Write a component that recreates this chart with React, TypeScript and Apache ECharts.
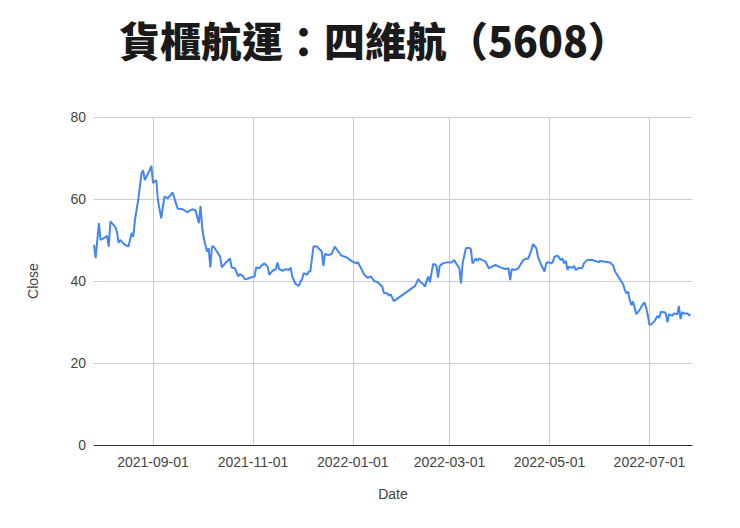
import React, { useEffect, useRef } from "react";
import * as echarts from "echarts";

const titleText = "貨櫃航運：四維航（5608）";

// trading dates and closing prices
const dates = [
  "2021-07-27", "2021-07-28", "2021-07-30", "2021-07-31", "2021-08-03", "2021-08-04",
  "2021-08-05", "2021-08-06", "2021-08-09", "2021-08-10", "2021-08-11", "2021-08-12",
  "2021-08-13", "2021-08-15", "2021-08-17", "2021-08-19", "2021-08-20", "2021-08-21",
  "2021-08-23", "2021-08-25", "2021-08-26", "2021-08-27", "2021-08-30", "2021-08-31",
  "2021-09-01", "2021-09-03", "2021-09-04", "2021-09-06", "2021-09-08", "2021-09-10",
  "2021-09-11", "2021-09-13", "2021-09-15", "2021-09-16", "2021-09-19", "2021-09-22",
  "2021-09-25", "2021-09-27", "2021-09-29", "2021-09-30", "2021-10-01", "2021-10-02",
  "2021-10-04", "2021-10-05", "2021-10-06", "2021-10-07", "2021-10-08", "2021-10-10",
  "2021-10-12", "2021-10-13", "2021-10-15", "2021-10-16", "2021-10-18", "2021-10-19",
  "2021-10-21", "2021-10-23", "2021-10-24", "2021-10-26", "2021-10-27", "2021-10-29",
  "2021-10-31", "2021-11-02", "2021-11-03", "2021-11-05", "2021-11-06", "2021-11-08",
  "2021-11-10", "2021-11-11", "2021-11-13", "2021-11-15", "2021-11-16", "2021-11-17",
  "2021-11-19", "2021-11-21", "2021-11-23", "2021-11-24", "2021-11-25", "2021-11-27",
  "2021-11-29", "2021-11-30", "2021-12-01", "2021-12-02", "2021-12-04", "2021-12-05",
  "2021-12-06", "2021-12-08", "2021-12-10", "2021-12-13", "2021-12-14", "2021-12-15",
  "2021-12-17", "2021-12-19", "2021-12-21", "2021-12-23", "2021-12-25", "2021-12-28",
  "2021-12-31", "2022-01-03", "2022-01-04", "2022-01-06", "2022-01-08", "2022-01-10",
  "2022-01-12", "2022-01-14", "2022-01-16", "2022-01-17", "2022-01-19", "2022-01-20",
  "2022-01-22", "2022-01-23", "2022-01-24", "2022-01-26", "2022-02-08", "2022-02-10",
  "2022-02-11", "2022-02-13", "2022-02-14", "2022-02-15", "2022-02-16", "2022-02-17",
  "2022-02-19", "2022-02-20", "2022-02-21", "2022-02-22", "2022-02-23", "2022-02-25",
  "2022-02-28", "2022-03-02", "2022-03-04", "2022-03-05", "2022-03-07", "2022-03-08",
  "2022-03-09", "2022-03-11", "2022-03-13", "2022-03-14", "2022-03-15", "2022-03-17",
  "2022-03-18", "2022-03-19", "2022-03-21", "2022-03-23", "2022-03-25", "2022-03-27",
  "2022-03-29", "2022-03-31", "2022-04-02", "2022-04-04", "2022-04-06", "2022-04-07",
  "2022-04-08", "2022-04-10", "2022-04-12", "2022-04-15", "2022-04-17", "2022-04-18",
  "2022-04-20", "2022-04-21", "2022-04-23", "2022-04-24", "2022-04-26", "2022-04-27",
  "2022-04-28", "2022-04-29", "2022-04-30", "2022-05-02", "2022-05-03", "2022-05-04",
  "2022-05-06", "2022-05-08", "2022-05-09", "2022-05-10", "2022-05-11", "2022-05-12",
  "2022-05-13", "2022-05-15", "2022-05-16", "2022-05-17", "2022-05-19", "2022-05-21",
  "2022-05-22", "2022-05-24", "2022-05-27", "2022-05-29", "2022-05-31", "2022-06-01",
  "2022-06-04", "2022-06-07", "2022-06-09", "2022-06-10", "2022-06-12", "2022-06-14",
  "2022-06-15", "2022-06-16", "2022-06-17", "2022-06-18", "2022-06-19", "2022-06-20",
  "2022-06-21", "2022-06-22", "2022-06-23", "2022-06-25", "2022-06-26", "2022-06-28",
  "2022-06-29", "2022-06-30", "2022-07-01", "2022-07-02", "2022-07-04", "2022-07-06",
  "2022-07-07", "2022-07-08", "2022-07-10", "2022-07-11", "2022-07-12", "2022-07-13",
  "2022-07-15", "2022-07-16", "2022-07-18", "2022-07-19", "2022-07-20", "2022-07-21",
  "2022-07-22", "2022-07-24", "2022-07-26",
];

const closes = [
  48.8, 45.6, 54.1, 50.0, 50.7, 51.0,
  48.4, 54.5, 53.2, 52.0, 49.3, 50.0,
  49.6, 48.8, 48.4, 51.7, 50.8, 54.9,
  59.8, 66.3, 67.0, 64.6, 67.0, 68.1,
  63.9, 64.6, 59.8, 55.3, 60.6, 60.2,
  60.6, 61.6, 59.0, 57.7, 57.5, 56.8,
  57.5, 57.2, 54.1, 58.3, 53.2, 50.4,
  47.2, 48.0, 43.3, 48.4, 48.4, 47.2,
  45.9, 43.3, 44.3, 44.7, 45.5, 43.3,
  43.1, 41.1, 41.7, 41.2, 40.4, 40.6,
  40.9, 41.1, 43.3, 43.1, 43.7, 44.3,
  43.5, 41.5, 42.5, 42.9, 44.5, 42.9,
  42.5, 42.9, 42.7, 43.3, 41.1, 39.3,
  38.8, 39.8, 40.4, 41.9, 41.5, 42.3,
  42.3, 48.5, 48.4, 47.2, 43.7, 46.6,
  46.3, 46.6, 48.4, 47.2, 46.2, 45.8,
  44.9, 44.3, 44.6, 43.1, 41.5, 40.8,
  41.1, 40.0, 39.7, 39.4, 38.6, 37.0,
  37.0, 36.4, 36.8, 35.1, 38.8, 40.5,
  39.8, 39.2, 38.6, 40.0, 41.1, 39.7,
  44.1, 44.1, 43.7, 40.8, 43.7, 44.3,
  44.6, 44.5, 45.1, 44.3, 43.1, 39.4,
  44.3, 48.0, 48.1, 47.8, 44.3, 45.5,
  44.9, 45.5, 45.1, 44.7, 43.1, 43.5,
  43.9, 43.5, 43.2, 42.9, 43.1, 40.2,
  42.9, 42.7, 43.1, 45.1, 45.5, 45.4,
  47.6, 49.0, 48.0, 45.9, 43.9, 43.1,
  42.3, 44.3, 44.6, 44.3, 44.6, 45.9,
  46.2, 45.1, 45.5, 44.3, 44.9, 42.7,
  43.5, 43.2, 43.7, 42.7, 43.2, 43.1,
  44.3, 45.1, 45.1, 44.9, 44.6, 44.9,
  44.7, 44.5, 43.7, 42.3, 41.1, 39.8,
  39.2, 37.8, 37.0, 37.4, 35.4, 34.1,
  35.0, 33.5, 31.9, 32.9, 33.7, 34.8,
  33.5, 31.7, 29.3, 29.4, 30.1, 31.5,
  31.0, 32.5, 32.4, 32.1, 29.9, 31.9,
  31.5, 32.1, 31.9, 33.9, 30.7, 32.4,
  32.1, 32.1, 31.5,
];

const dateTicks = [
  "2021-09-01", "2021-11-01", "2022-01-01", "2022-03-01", "2022-05-01", "2022-07-01",
];
const dateMin = "2021-07-27";
const dateMax = "2022-07-27";

const textColor = "#444444";
const gridColor = "#cccccc";
const labelFont = "Liberation Sans, Arial, sans-serif";

export default function App() {
  const chartRef = useRef<HTMLDivElement | null>(null);

  useEffect(() => {
    if (!chartRef.current) return;
    const chart = echarts.init(chartRef.current, null, { renderer: "svg" });
    const tickValues = dateTicks.map((d) => echarts.time.parse(d).getTime());

    chart.setOption({
      animation: false,
      backgroundColor: "#ffffff",
      title: {
        text: titleText,
        left: 114,
        top: 13,
        textStyle: {
          fontFamily: "Noto Sans CJK TC",
          fontWeight: 900,
          fontSize: 41,
          color: "#1a1a1a",
        },
      },
      grid: { left: 94, right: 48, top: 117, bottom: 83, containLabel: false },
      xAxis: {
        type: "time",
        min: dateMin,
        max: dateMax,
        name: "Date",
        nameLocation: "middle",
        nameGap: 42,
        nameTextStyle: { color: textColor, fontSize: 14, fontFamily: labelFont },
        axisLine: { show: true, lineStyle: { color: "#333333", width: 1 } },
        axisTick: { show: false, customValues: tickValues },
        axisLabel: {
          customValues: tickValues,
          formatter: "{yyyy}-{MM}-{dd}",
          color: textColor,
          fontSize: 14,
          fontFamily: labelFont,
          margin: 10,
        },
        splitLine: { show: true, lineStyle: { color: gridColor, width: 1 } },
      },
      yAxis: {
        type: "value",
        min: 0,
        max: 80,
        interval: 20,
        name: "Close",
        nameLocation: "middle",
        nameGap: 54,
        nameTextStyle: { color: textColor, fontSize: 14, fontFamily: labelFont },
        axisLine: { show: false },
        axisTick: { show: false },
        axisLabel: { color: textColor, fontSize: 14, fontFamily: labelFont, margin: 8 },
        splitLine: { lineStyle: { color: gridColor, width: 1 } },
      },
      series: [
        {
          name: "Close",
          type: "line",
          showSymbol: false,
          smooth: false,
          lineStyle: { color: "#4285f4", width: 2 },
          itemStyle: { color: "#4285f4" },
          data: dates.map((d, i) => [d, closes[i]]),
        },
      ],
    });

    return () => chart.dispose();
  }, []);

  return (
    <div
      ref={chartRef}
      style={{ position: "absolute", left: 0, top: 0, width: 740, height: 528 }}
    />
  );
}
